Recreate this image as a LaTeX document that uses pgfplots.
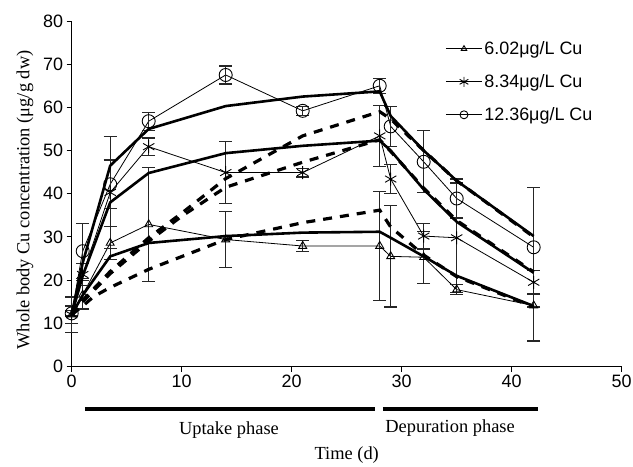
\documentclass[border=0pt]{standalone}
\usepackage{pgfplots}
\pgfplotsset{compat=1.18}
\usepackage{fontspec}
\setmainfont{Liberation Serif}
\setsansfont{Liberation Sans}

\begin{document}
\begin{tikzpicture}
\useasboundingbox (-71.7bp,-100.5bp) rectangle (561.3bp,366.5bp);
\begin{axis}[
  at={(0,0)}, anchor=south west,
  scale only axis, width=550bp, height=345.5bp,
  xmin=0, xmax=50, ymin=0, ymax=80,
  axis x line=bottom, axis y line=left,
  axis line style={-, line width=1.1bp},
  xtick={0,10,...,50}, ytick={0,10,...,80},
  tick align=outside, major tick length=5bp,
  tick style={black, line width=1bp},
  ticklabel style={font=\sffamily\fontsize{18}{20}\selectfont},
  /pgf/number format/assume math mode=true,
  clip=false,
  xlabel={Time (d)},
  ylabel={Whole body Cu concentration (μg/g dw)},
  label style={font=\rmfamily\fontsize{18.5}{21}\selectfont},
  xlabel style={at={(axis description cs:0.5,-0.256)}, anchor=center},
  ylabel style={at={(axis description cs:-0.085,0.482)}, anchor=center},
  legend style={at={(axis cs:33.7,76.2)}, anchor=north west, draw=none, fill=none,
    font=\sffamily\fontsize{18}{20}\selectfont, row sep=14.5bp},
  legend cell align=left,
  legend image code/.code={\draw[mark repeat=2, mark phase=2, #1]
    plot coordinates {(0bp,0bp) (18bp,0bp) (36bp,0bp)};},
  data/.style={black, line width=0.8bp, mark options={solid, line width=0.9bp},
    error bars/y dir=both, error bars/y explicit,
    error bars/error bar style={line width=1.2bp, black!85},
    error bars/error mark options={rotate=90, mark size=6.5bp, line width=1.2bp, black!85}},
  fit/.style={black, line width=2.6bp, no marks, forget plot},
  fitdash/.style={black, line width=3.2bp, no marks, forget plot, dash pattern=on 9bp off 8bp},
]

% measured values, mean +- sd
\addplot[data, mark=triangle, mark size=4.6bp, legend image post style={mark size=3.2bp}]
  coordinates {
  (0,12.0) +- (0,4.1) (1,16.6) +- (0,3.3) (3.5,28.6) +- (0,3.9) (7,32.9) +- (0,13.2)
  (14,29.4) +- (0,6.4) (21,27.9) +- (0,1.2) (28,27.9) +- (0,12.7) (29,25.5) +- (0,11.7)
  (32,25.3) +- (0,6.0) (35,17.8) +- (0,1.2) (42,14.1) +- (0,8.2)};
\addlegendentry{6.02μg/L Cu}

\addplot[data, mark=asterisk, mark size=6.5bp, legend image post style={mark size=5bp}]
  coordinates {
  (0,12.0) +- (0,2.0) (1,21.3) +- (0,2.5) (3.5,40.3) +- (0,12.9) (7,50.9) +- (0,2.0)
  (14,44.9) +- (0,7.2) (21,44.9) +- (0,1.0) (28,53.4) +- (0,7.0) (29,43.4) +- (0,3.3)
  (32,30.2) +- (0,3.0) (35,29.8) +- (0,12.7) (42,19.5) +- (0,2.7)};
\addlegendentry{8.34μg/L Cu}

\addplot[data, mark=o, mark size=6.5bp, legend image post style={mark size=4bp}]
  coordinates {
  (0,12.3) +- (0,0.6) (1,26.7) +- (0,6.4) (3.5,42.2) +- (0,5.6) (7,56.8) +- (0,2.1)
  (14,67.5) +- (0,2.1) (21,59.2) +- (0,1.0) (28,65.0) +- (0,1.7) (29,55.6) +- (0,4.6)
  (32,47.4) +- (0,7.2) (35,38.9) +- (0,4.5) (42,27.6) +- (0,13.8)};
\addlegendentry{12.36μg/L Cu}

% model 1 (solid)
\addplot[fit] coordinates {(0,12) (1,16.5) (3.5,25.5) (7,28.6) (14,30.2) (21,31) (28,31.2)
  (29,29.8) (32,25.5) (35,21) (42,14)};
\addplot[fit] coordinates {(0,12) (1,21) (3.5,38) (7,44.8) (14,49.4) (21,51.1) (28,52.3)
  (29,50) (32,41) (35,33.5) (42,21.7)};
\addplot[fit] coordinates {(0,12) (1,24) (3.5,46.5) (7,55) (14,60.3) (21,62.5) (28,63.7)
  (29,58) (32,50) (35,43) (42,30.2)};

% model 2 (dashed)
\addplot[fitdash] coordinates {(0,12) (1,14) (2,16.2) (3.5,18.3) (7,22.5) (14,29.4) (21,33.3)
  (28,36.2) (29,32.3) (32,25.8) (35,20.8) (42,13.8)};
\addplot[fitdash] coordinates {(0,12) (1,15) (3.5,21.5) (7,29) (10,34.8) (14,41.5) (21,47.3)
  (28,52.5) (29,49.8) (32,41.3) (35,33.8) (42,21.9)};
\addplot[fitdash] coordinates {(0,12) (1,15.3) (3.5,22) (7,29.8) (10,35.5) (14,43.5) (21,53.4)
  (28,59) (29,57.3) (32,50) (35,43) (42,30)};

% phase bars under the axis
\draw[line width=3.5bp] (axis cs:1.2,-9.8) -- (axis cs:27.6,-9.8);
\draw[line width=3.5bp] (axis cs:28.3,-9.8) -- (axis cs:42.4,-9.8);
\node[font=\rmfamily\fontsize{18.5}{21}\selectfont] at (axis cs:14.3,-14.8) {Uptake phase};
\node[font=\rmfamily\fontsize{18.5}{21}\selectfont] at (axis cs:34.4,-14.3) {Depuration phase};
\end{axis}
\end{tikzpicture}
\end{document}
